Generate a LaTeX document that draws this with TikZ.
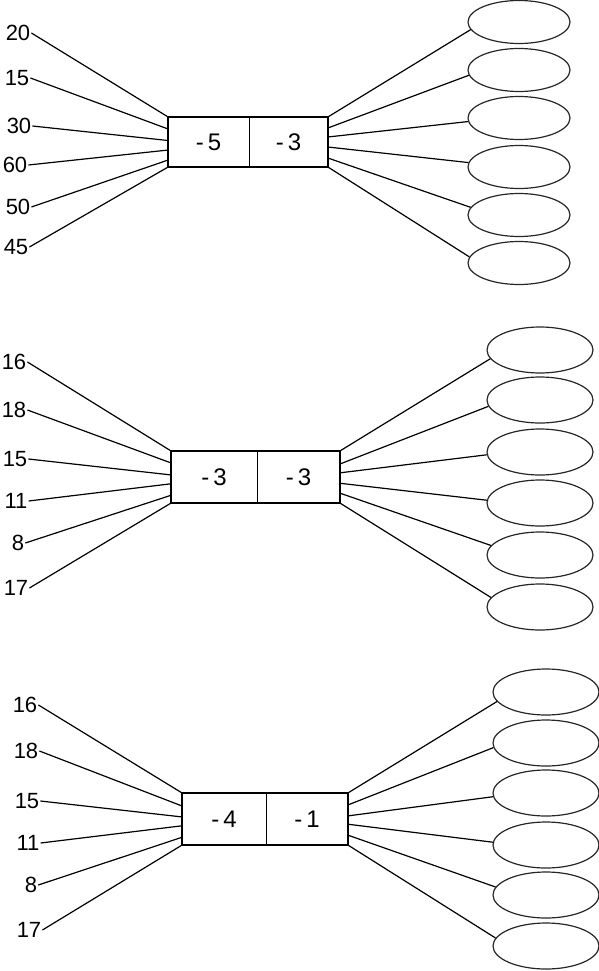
\documentclass[tikz,border=0pt]{standalone}
\usepackage{fontspec}
\setmainfont{Liberation Sans}
\usetikzlibrary{shapes.geometric,calc}
\tikzset{
  lab/.style={inner sep=1pt,font=\fontsize{22}{25}\selectfont},
  cell/.style={rectangle,inner sep=0pt,font=\fontsize{24}{27}\selectfont},
  outer/.style={line width=1.8pt},
  divider/.style={line width=1.1pt},
  conn/.style={line width=1.2pt},
  oval/.style={ellipse,draw=black!85,line width=1.2pt,inner sep=0pt},
}
\begin{document}
\begin{tikzpicture}[x=1pt,y=-1pt]
\useasboundingbox (0,0) rectangle (599,971);

% ---------- top block ----------
\node[cell,minimum width=81pt,minimum height=50pt] (t-a) at (208.5,142) {-\,5};
\node[cell,minimum width=79pt,minimum height=50pt] (t-b) at (288.5,142) {-\,3};
\draw[outer] (t-a.north west) rectangle (t-b.south east);
\draw[divider] (t-a.north east) -- (t-a.south east);
\foreach \i/\txt/\x/\y in {1/20/18/33,2/15/17/78,3/30/19/126,4/60/15/165,5/50/18/207,6/45/16/247}
  \node[lab] (t-l\i) at (\x,\y) {\txt};
\foreach \i/\f in {1/0,2/0.24,3/0.47,4/0.66,5/0.86,6/1}
  \draw[conn] (t-l\i.east) -- ($(t-a.north west)!\f!(t-a.south west)$);
\foreach \i/\y in {1/22,2/70,3/118,4/167,5/215,6/263}
  \node[oval,minimum width=102pt,minimum height=43pt] (t-e\i) at (519,\y) {};
\foreach \i/\f/\ang in {1/0/189,2/0.22/186,3/0.4/184.5,4/0.6/175.5,5/0.82/171,6/1/173}
  \draw[conn] ($(t-b.north east)!\f!(t-b.south east)$) -- (t-e\i.\ang);

% ---------- middle block ----------
\node[cell,minimum width=86pt,minimum height=52pt] (m-a) at (214,477) {-\,3};
\node[cell,minimum width=83pt,minimum height=52pt] (m-b) at (298.5,477) {-\,3};
\draw[outer] (m-a.north west) rectangle (m-b.south east);
\draw[divider] (m-a.north east) -- (m-a.south east);
\foreach \i/\txt/\x/\y in {1/16/14/362,2/18/14/410,3/15/15/459,4/11/16/501,5/8/18/543,6/17/16/588}
  \node[lab] (m-l\i) at (\x,\y) {\txt};
\foreach \i/\f in {1/0,2/0.23,3/0.46,4/0.63,5/0.85,6/1}
  \draw[conn] (m-l\i.east) -- ($(m-a.north west)!\f!(m-a.south west)$);
\foreach \i/\y in {1/350,2/400,3/452,4/503,5/555,6/607}
  \node[oval,minimum width=106pt,minimum height=46pt] (m-e\i) at (540,\y) {};
\foreach \i/\f/\ang in {1/0/190,2/0.25/187.5,3/0.42/183,4/0.62/177,5/0.81/169,6/1/169}
  \draw[conn] ($(m-b.north east)!\f!(m-b.south east)$) -- (m-e\i.\ang);

% ---------- bottom block ----------
\node[cell,minimum width=84pt,minimum height=52pt] (b-a) at (224,819) {-\,4};
\node[cell,minimum width=82pt,minimum height=52pt] (b-b) at (307,819) {-\,1};
\draw[outer] (b-a.north west) rectangle (b-b.south east);
\draw[divider] (b-a.north east) -- (b-a.south east);
\foreach \i/\txt/\x/\y in {1/16/25/705,2/18/26/751,3/15/27/801,4/11/28/843,5/8/31/885,6/17/29/930}
  \node[lab] (b-l\i) at (\x,\y) {\txt};
\foreach \i/\f in {1/0,2/0.25,3/0.46,4/0.63,5/0.85,6/1}
  \draw[conn] (b-l\i.east) -- ($(b-a.north west)!\f!(b-a.south west)$);
\foreach \i/\y in {1/692,2/743,3/793,4/845,5/895,6/946}
  \node[oval,minimum width=106pt,minimum height=46pt] (b-e\i) at (546,\y) {};
\foreach \i/\f/\ang in {1/0/191,2/0.23/185,3/0.44/184,4/0.6/177,5/0.81/171,6/1/171}
  \draw[conn] ($(b-b.north east)!\f!(b-b.south east)$) -- (b-e\i.\ang);
\end{tikzpicture}
\end{document}
